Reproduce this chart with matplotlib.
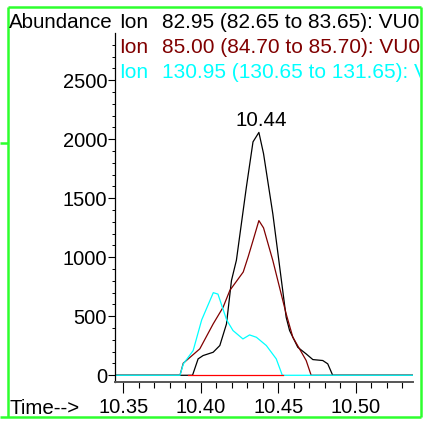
import matplotlib
matplotlib.use('Agg')
import matplotlib.pyplot as plt
from matplotlib.ticker import MultipleLocator, FormatStrFormatter
from matplotlib.transforms import Bbox, TransformedBbox
from matplotlib.lines import Line2D

plt.rcParams['font.family'] = ['Liberation Sans', 'DejaVu Sans']

# ---------------- data ----------------
ion_labels = ["Ion", "Ion", "Ion"]
ion_texts = ["82.95 (82.65 to 83.65): VU0",
             "85.00 (84.70 to 85.70): VU0",
             "130.95 (130.65 to 131.65): VU0"]
ion_colors = ["#000000", "#800000", "#00FFFF"]

t_8295 = [10.3446, 10.3946, 10.3982, 10.4014, 10.4079, 10.4122, 10.4165, 10.4197,
          10.4229, 10.4293, 10.4336, 10.4374, 10.4404, 10.4464, 10.4550, 10.4572,
          10.4625, 10.4679, 10.4722, 10.4786, 10.4818, 10.4850, 10.5366]
y_8295 = [0, 0, 139, 167, 195, 252, 435, 802,
          975, 1592, 1978, 2058, 1878, 1367, 491, 379,
          237, 181, 133, 125, 97, 0, 0]

t_8500 = [10.3446, 10.3865, 10.3886, 10.3993, 10.4079, 10.4143, 10.4187, 10.4273,
          10.4305, 10.4336, 10.4374, 10.4404, 10.4464, 10.4550, 10.4593, 10.4636,
          10.4679, 10.4711, 10.5366]
y_8500 = [0, 0, 102, 224, 435, 576, 720, 875,
          1005, 1141, 1311, 1249, 972, 520, 322, 224,
          125, 0, 0]

t_13095 = [10.3446, 10.3865, 10.3887, 10.3950, 10.4005, 10.4080, 10.4110, 10.4166,
           10.4207, 10.4271, 10.4314, 10.4358, 10.4422, 10.4486, 10.4525, 10.5366]
y_13095 = [0, 0, 97, 209, 469, 700, 688, 469,
           379, 308, 342, 322, 252, 139, 0, 0]

baseline_t = [10.3919, 10.4528]
baseline_y = [0, 0]

peak_rt = 10.4392
peak_height = 2058
peak_label = "10.44"

x_ticks = [10.35, 10.40, 10.45, 10.50]
y_ticks = [0, 500, 1000, 1500, 2000, 2500]

# ---------------- figure ----------------
W, H = 425, 423
fig = plt.figure(figsize=(W / 100, H / 100), dpi=100)
fig.patch.set_facecolor('white')

ax = fig.add_axes([115 / W, 1 - 382 / H, 297.7 / W, (382 - 33.3) / H])
ax.set_facecolor('none')

lw = 0.9
ax.plot(t_8295, y_8295, color=ion_colors[0], lw=lw)
ax.plot(t_8500, y_8500, color=ion_colors[1], lw=lw)
ax.plot(t_13095, y_13095, color=ion_colors[2], lw=lw)
ax.plot(baseline_t, baseline_y, color='#FF0000', lw=lw)

ax.set_xlim(10.3446, 10.5366)
ax.set_ylim(-57, 2898)

fs_tick = 14.5
fs_text = 14.8
fs_leg = 15.0
ax.set_xticks(x_ticks)
ax.xaxis.set_major_formatter(FormatStrFormatter('%.2f'))
ax.xaxis.set_minor_locator(MultipleLocator(0.01))
ax.set_yticks(y_ticks)
ax.yaxis.set_minor_locator(MultipleLocator(100))

ax.tick_params(axis='x', which='major', direction='out', length=7.9, width=0.8,
               pad=3.6, labelsize=fs_tick, colors='black')
ax.tick_params(axis='x', which='minor', direction='out', length=4.3, width=0.8)
ax.tick_params(axis='y', which='major', direction='out', length=5, width=0.8,
               pad=0.7, labelsize=fs_tick)
ax.tick_params(axis='y', which='minor', direction='out', length=2.3, width=0.7)

for s in ['top', 'right']:
    ax.spines[s].set_visible(False)
ax.spines['left'].set_color('black')
ax.spines['left'].set_linewidth(0.9)
ax.spines['bottom'].set_color('#555555')
ax.spines['bottom'].set_linewidth(1.4)

ax.annotate(peak_label, xy=(peak_rt, peak_height), xytext=(0, 4.5),
            textcoords='offset points', ha='center', va='baseline', fontsize=fs_text)

# ---------------- texts ----------------
fig.text(9 / W, 1 - 28.5 / H, "Abundance", fontsize=fs_text, ha='left', va='baseline')
fig.text(9 / W, 1 - 414 / H, "Time-->", fontsize=fs_text, ha='left', va='baseline')

clip = TransformedBbox(Bbox([[0, 0], [420.3 / W, 1]]), fig.transFigure)
baselines = [28.5, 53.0, 77.5]
for lab, txt, col, b in zip(ion_labels, ion_texts, ion_colors, baselines):
    t1 = fig.text(119.5 / W, 1 - b / H, lab, fontsize=fs_leg, color=col, ha='left', va='baseline')
    t2 = fig.text(162 / W, 1 - b / H, txt, fontsize=fs_leg, color=col, ha='left', va='baseline')
    for t in (t1, t2):
        t.set_clip_box(clip)
        t.set_clip_on(True)

# ---------------- green frame ----------------
g = '#2EFF2E'
glw = 1.8
def seg(x0, y0, x1, y1):
    fig.add_artist(Line2D([x0 / W, x1 / W], [1 - y0 / H, 1 - y1 / H],
                          transform=fig.transFigure, color=g, lw=glw,
                          solid_capstyle='butt'))
seg(7.5, 7, 421, 7)
seg(7.5, 7, 7.5, 417)
seg(421, 7, 421, 417)
seg(0, 417, 421, 417)
seg(0, 143, 7.5, 143)

fig.savefig('out.png', dpi=100, facecolor='white')
